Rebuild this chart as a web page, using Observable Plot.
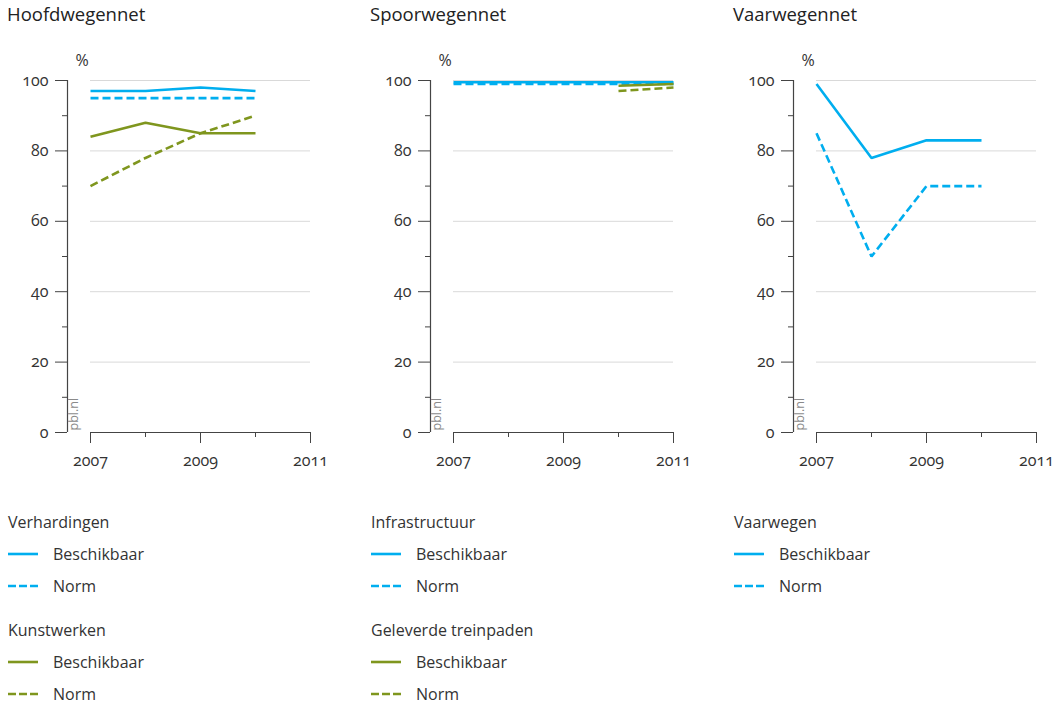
<!DOCTYPE html>
<html>
<head>
<meta charset="utf-8">
<script src="https://cdn.jsdelivr.net/npm/d3@7"></script>
<script src="https://cdn.jsdelivr.net/npm/@observablehq/plot@0.6"></script>
<style>
  html, body { margin: 0; padding: 0; background: #fff; }
  body { font-family: "Open Sans", "Noto Sans", sans-serif; color: #333; width: 1064px; height: 705px; position: relative; overflow: hidden; }
  .panel { position: absolute; top: 0; width: 340px; height: 705px; }
  .title { position: absolute; left: 7px; top: 1px; font-size: 18.5px; color: #222; white-space: nowrap; }
  .chart { position: absolute; left: 0; top: 30px; }
  .chart svg text { font-variant-numeric: oldstyle-nums; }
  .lg-head { position: absolute; left: 8px; font-size: 16px; color: #333; white-space: nowrap; }
  .lg-item { position: absolute; left: 8px; height: 20px; font-size: 16px; color: #333; white-space: nowrap; }
  .lg-item svg { position: absolute; left: 0; top: 0; }
  .lg-item span { position: absolute; left: 45px; top: 0; line-height: 20px; }
</style>
</head>
<body>
<script>
// ---- data ----
const years = [2007, 2008, 2009, 2010, 2011];
const panelTitles = ["Hoofdwegennet", "Spoorwegennet", "Vaarwegennet"];
const yTicks = [0, 20, 40, 60, 80, 100];
const yMinorTicks = [10, 30, 50, 70, 90];
const xTicks = [2007, 2009, 2011];
const xMinorTicks = [2008, 2010];

// Hoofdwegennet (2007..2011)
const verhardingenBeschikbaar = [97, 97, 98, 97, null];
const verhardingenNorm = [95, 95, 95, 95, null];
const kunstwerkenBeschikbaar = [84, 88, 85, 85, null];
const kunstwerkenNorm = [70, 78, 85, 90, null];
// Spoorwegennet
const infrastructuurBeschikbaar = [99.5, 99.5, 99.5, 99.5, 99.5];
const infrastructuurNorm = [99, 99, 99, 99, 99];
const treinpadenBeschikbaar = [null, null, null, 98.5, 99];
const treinpadenNorm = [null, null, null, 97, 98];
// Vaarwegennet
const vaarwegenBeschikbaar = [99, 78, 83, 83, null];
const vaarwegenNorm = [85, 50, 70, 70, null];

const legendGroups = [
  ["Verhardingen", "Kunstwerken"],
  ["Infrastructuur", "Geleverde treinpaden"],
  ["Vaarwegen"]
];
const seriesLabels = ["Beschikbaar", "Norm"];

// ---- styles ----
const BLUE = "#00aeef";
const GREEN = "#7f961e";
const DASH = "8,4";
const panelOffsets = [0, 363, 726];

const panels = [
  [
    {values: verhardingenNorm, color: BLUE, dashed: true},
    {values: verhardingenBeschikbaar, color: BLUE, dashed: false},
    {values: kunstwerkenNorm, color: GREEN, dashed: true},
    {values: kunstwerkenBeschikbaar, color: GREEN, dashed: false}
  ],
  [
    {values: infrastructuurNorm, color: BLUE, dashed: true},
    {values: infrastructuurBeschikbaar, color: BLUE, dashed: false},
    {values: treinpadenNorm, color: GREEN, dashed: true},
    {values: treinpadenBeschikbaar, color: GREEN, dashed: false}
  ],
  [
    {values: vaarwegenNorm, color: BLUE, dashed: true},
    {values: vaarwegenBeschikbaar, color: BLUE, dashed: false}
  ]
];
const legendColors = [[BLUE, GREEN], [BLUE, GREEN], [BLUE]];

function makeChart(series) {
  const lineMarks = series.map(s => {
    const rows = years.map((year, i) => ({year, value: s.values[i]})).filter(d => d.value != null);
    return Plot.line(rows, {
      x: "year", y: "value", stroke: s.color, strokeWidth: 2.6,
      strokeDasharray: s.dashed ? DASH : null, strokeLinejoin: "miter", strokeLinecap: "butt"
    });
  });
  return Plot.plot({
    width: 335, height: 450,
    marginLeft: 67, marginRight: 25, marginTop: 50, marginBottom: 48,
    style: {fontFamily: '"Open Sans", "Noto Sans", sans-serif', fontSize: "16px", color: "#333", background: "transparent"},
    x: {domain: [2007, 2011], insetLeft: 23},
    y: {domain: [0, 100]},
    marks: [
      Plot.ruleY(yTicks.filter(d => d > 0), {insetLeft: 23, stroke: "#d9d9d9", strokeWidth: 1}),
      Plot.ruleY([0], {insetLeft: 23, stroke: "#444", strokeWidth: 1.2}),
      Plot.ruleX([2007], {y1: 0, y2: 100, dx: -23, stroke: "#444", strokeWidth: 1.2}),
      Plot.axisY({ticks: yTicks, tickSize: 12, tickPadding: 7, label: null, stroke: "#444", fontSize: 16}),
      Plot.axisY({ticks: yMinorTicks, tickSize: 5, tickFormat: () => "", label: null, stroke: "#444"}),
      Plot.axisX({ticks: xTicks, tickSize: 11, tickPadding: 11, tickFormat: d => String(d), label: null, stroke: "#444", fontSize: 16}),
      Plot.axisX({ticks: xMinorTicks, tickSize: 5, tickFormat: () => "", label: null, stroke: "#444"}),
      Plot.text(["%"], {frameAnchor: "top-left", dx: 8, dy: -26, fontSize: 16, fill: "#333"}),
      Plot.text(["pbl.nl"], {frameAnchor: "bottom-left", rotate: -90, textAnchor: "start", dx: 10, dy: -2, fontSize: 12.5, fill: "#8a8a8a"}),
      ...lineMarks
    ]
  });
}

function swatch(color, dashed) {
  const ns = "http://www.w3.org/2000/svg";
  const svg = document.createElementNS(ns, "svg");
  svg.setAttribute("width", 32); svg.setAttribute("height", 20);
  const l = document.createElementNS(ns, "line");
  l.setAttribute("x1", 0); l.setAttribute("x2", 30);
  l.setAttribute("y1", 10); l.setAttribute("y2", 10);
  l.setAttribute("stroke", color); l.setAttribute("stroke-width", 2.6);
  if (dashed) l.setAttribute("stroke-dasharray", "8,3");
  svg.appendChild(l);
  return svg;
}

panels.forEach((series, p) => {
  const div = document.createElement("div");
  div.className = "panel";
  div.style.left = panelOffsets[p] + "px";
  const t = document.createElement("div");
  t.className = "title"; t.textContent = panelTitles[p];
  div.appendChild(t);
  const c = document.createElement("div");
  c.className = "chart";
  c.appendChild(makeChart(series));
  div.appendChild(c);

  legendGroups[p].forEach((g, gi) => {
    const baseY = 511 + gi * 108;
    const h = document.createElement("div");
    h.className = "lg-head"; h.style.top = baseY + "px"; h.textContent = g;
    div.appendChild(h);
    seriesLabels.forEach((lab, si) => {
      const it = document.createElement("div");
      it.className = "lg-item";
      it.style.top = (baseY + 33 + si * 32) + "px";
      it.appendChild(swatch(legendColors[p][gi], si === 1));
      const sp = document.createElement("span"); sp.textContent = lab;
      it.appendChild(sp);
      div.appendChild(it);
    });
  });
  document.body.appendChild(div);
});
</script>
</body>
</html>
